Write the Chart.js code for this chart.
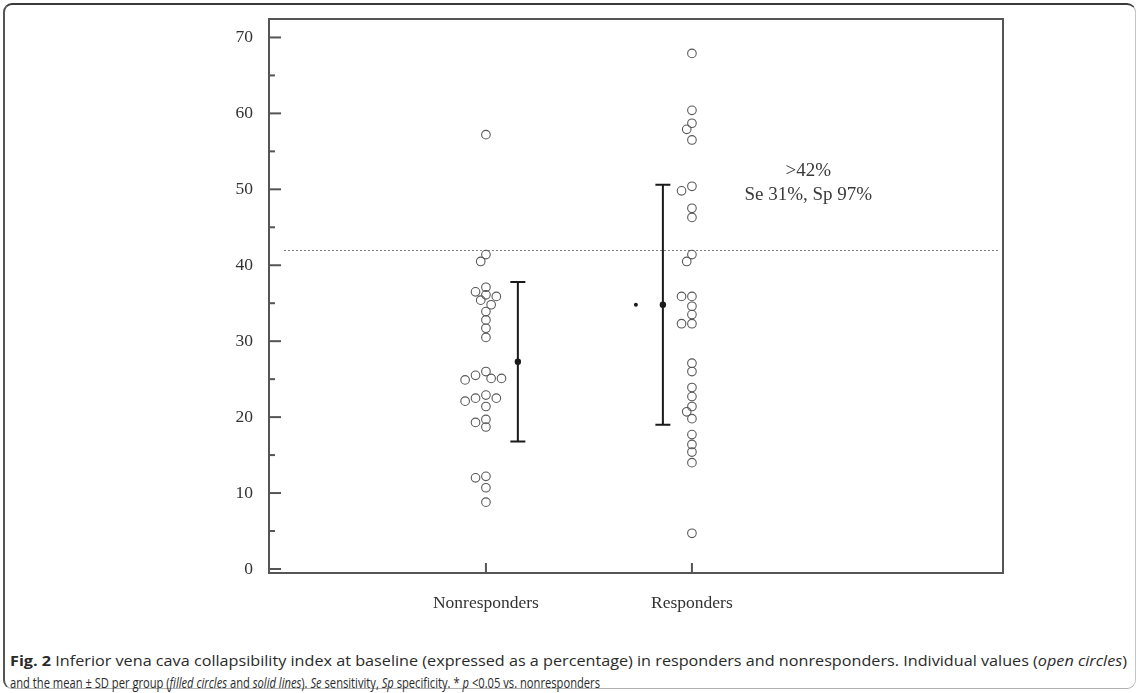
<!DOCTYPE html>
<html><head><meta charset="utf-8">
<script src="https://cdn.jsdelivr.net/npm/chart.js@4.4.1/dist/chart.umd.min.js"></script>
<style>
html,body{margin:0;padding:0;background:#fff;}
#wrap{position:relative;width:1140px;height:693px;overflow:hidden;background:#fff;}
#frame{position:absolute;left:3px;top:3px;width:1133px;height:686px;border-top:2px solid #3a3a3a;border-left:2px solid #555;border-right:1px solid #c4c4c4;border-bottom:1px solid #b0b0b0;border-radius:9px;box-sizing:border-box;}
#cv{position:absolute;left:0;top:0;}
.cap{position:absolute;left:10px;white-space:nowrap;font-family:"Open Sans",sans-serif;font-size:14.5px;color:#2a2a2a;transform-origin:0 50%;line-height:18px;}
</style></head>
<body>
<div id="wrap">
<div id="frame"></div>
<canvas id="cv" width="1140" height="640"></canvas>
<div class="cap" id="cap1" style="top:652px"><b>Fig. 2</b> Inferior vena cava collapsibility index at baseline (expressed as a percentage) in responders and nonresponders. Individual values (<i>open circles</i>)</div>
<div class="cap" id="cap2" style="top:674px">and the mean ± SD per group (<i>filled circles</i> and <i>solid lines</i>). <i>Se</i> sensitivity, <i>Sp</i> specificity. * <i>p</i> &lt;0.05 vs. nonresponders</div>
</div>
<script>
// ---- data ----
const groups = ["Nonresponders", "Responders"];
const nonresponders = [57.2, 41.4, 40.5, 37.1, 36.5, 36.1, 35.9, 35.4, 34.8, 33.9, 32.8, 31.7, 30.5,
  26.0, 25.5, 25.1, 25.1, 24.9, 22.9, 22.5, 22.5, 22.1, 21.4, 19.7, 19.3, 18.7, 12.2, 12.0, 10.7, 8.8];
const responders = [67.9, 60.4, 58.7, 57.9, 56.5, 50.4, 49.8, 47.5, 46.3, 41.4, 40.5, 35.9, 35.9, 34.6,
  33.5, 32.3, 32.3, 27.1, 26.0, 23.9, 22.7, 21.4, 20.7, 19.8, 17.7, 16.4, 15.4, 14.0, 4.7];
const groupMeans = [27.3, 34.8];
const groupSDs = [10.5, 15.8];
const cutoff = 42;
const annotationLines = [">42%", "Se 31%, Sp 97%"];
const yTicks = [0, 10, 20, 30, 40, 50, 60, 70];
const yMinorTicks = [5, 15, 25, 35, 45, 55, 65];

// ---- layout / style settings ----
const errBarOffset = [0.155, -0.141];   // x-units from group centre
const starOffset = -0.272;
const annotationAnchor = {x: 2.565, y: 52.4, lineGap: 3.15};
const serif = '"Liberation Serif", "DejaVu Serif", serif';

const decor = {
  id: 'decor',
  beforeDatasetsDraw(chart) {
    const {ctx, chartArea: a, scales: {x, y}} = chart;
    ctx.save();
    const yc = Math.round(y.getPixelForValue(cutoff)) + 0.5;
    ctx.strokeStyle = '#808080';
    ctx.lineWidth = 1;
    ctx.setLineDash([2, 2]);
    ctx.beginPath(); ctx.moveTo(a.left + 15, yc); ctx.lineTo(a.right - 3, yc); ctx.stroke();
    ctx.setLineDash([]);
    ctx.strokeStyle = '#555';
    ctx.lineWidth = 2;
    ctx.strokeRect(a.left, a.top, a.right - a.left, a.bottom - a.top);
    yTicks.forEach(v => { const p = y.getPixelForValue(v); ctx.beginPath(); ctx.moveTo(a.left, p); ctx.lineTo(a.left + 12, p); ctx.stroke(); });
    yMinorTicks.forEach(v => { const p = y.getPixelForValue(v); ctx.beginPath(); ctx.moveTo(a.left, p); ctx.lineTo(a.left + 6, p); ctx.stroke(); });
    groups.forEach((g, i) => { const p = x.getPixelForValue(i + 1); ctx.beginPath(); ctx.moveTo(p, a.bottom); ctx.lineTo(p, a.bottom - 10); ctx.stroke(); });
    ctx.restore();
  },
  afterDatasetsDraw(chart) {
    const {ctx, scales: {x, y}} = chart;
    ctx.save();
    ctx.strokeStyle = '#1a1a1a';
    ctx.fillStyle = '#1a1a1a';
    ctx.lineWidth = 2;
    groupMeans.forEach((m, i) => {
      const px = x.getPixelForValue(i + 1 + errBarOffset[i]);
      const top = y.getPixelForValue(m + groupSDs[i]);
      const bot = y.getPixelForValue(m - groupSDs[i]);
      ctx.beginPath();
      ctx.moveTo(px, top); ctx.lineTo(px, bot);
      ctx.moveTo(px - 7.5, top); ctx.lineTo(px + 7.5, top);
      ctx.moveTo(px - 7.5, bot); ctx.lineTo(px + 7.5, bot);
      ctx.stroke();
      ctx.beginPath(); ctx.arc(px, y.getPixelForValue(m), 3.2, 0, Math.PI * 2); ctx.fill();
    });
    const sx = x.getPixelForValue(2 + starOffset);
    const sy = y.getPixelForValue(groupMeans[1]);
    ctx.beginPath(); ctx.arc(sx, sy, 2, 0, Math.PI * 2); ctx.fill();
    ctx.fillStyle = '#3a3a3a';
    ctx.font = '19px ' + serif;
    ctx.textAlign = 'center';
    ctx.textBaseline = 'middle';
    annotationLines.forEach((t, k) => {
      ctx.fillText(t, x.getPixelForValue(annotationAnchor.x), y.getPixelForValue(annotationAnchor.y - k * annotationAnchor.lineGap));
    });
    ctx.restore();
  }
};

const pointStyle = {
  showLine: false, pointRadius: 4.3, pointHoverRadius: 4.3, pointBorderWidth: 1.1,
  borderColor: '#585858', backgroundColor: 'rgba(0,0,0,0)', pointBackgroundColor: 'rgba(0,0,0,0)'
};

const chart = new Chart(document.getElementById('cv'), {
  type: 'scatter',
  data: {
    datasets: [
      Object.assign({label: groups[0], data: nonresponders.map(v => ({x: 1, y: v}))}, pointStyle),
      Object.assign({label: groups[1], data: responders.map(v => ({x: 2, y: v}))}, pointStyle)
    ]
  },
  options: {
    responsive: false, animation: false, events: [],
    layout: {padding: {top: 19, right: 137, left: 0, bottom: 0}},
    plugins: {legend: {display: false}, tooltip: {enabled: false}},
    scales: {
      x: {
        type: 'linear', min: -0.053, max: 3.51,
        afterFit(s) { s.height = 67; s.paddingLeft = 0; s.paddingRight = 0; },
        afterBuildTicks(s) { s.ticks = groups.map((g, i) => ({value: i + 1})); },
        ticks: {callback: (v, i) => groups[i], font: {family: serif, size: 17.5}, color: '#333', padding: 20, maxRotation: 0, autoSkip: false},
        grid: {display: false, drawTicks: false}, border: {display: false}
      },
      y: {
        type: 'linear', min: -0.53, max: 72.43,
        afterFit(s) { s.width = 269; s.paddingTop = 0; s.paddingBottom = 0; },
        afterBuildTicks(s) { s.ticks = yTicks.map(v => ({value: v})); },
        ticks: {font: {family: serif, size: 17.5}, color: '#333', padding: 16},
        grid: {display: false, drawTicks: false}, border: {display: false}
      }
    }
  },
  plugins: [decor]
});

function swarm(values, group) {
  const y = chart.scales.y, x = chart.scales.x;
  const pxPerUnit = x.getPixelForValue(1) - x.getPixelForValue(0);
  const placed = [], out = new Array(values.length);
  const order = values.map((v, i) => i).sort((a, b) => values[b] - values[a]);
  const minDist = 7.4, step = 5.2;
  order.forEach(i => {
    const py = y.getPixelForValue(values[i]);
    for (let k = 0; k < 40; k++) {
      const cand = k === 0 ? 0 : (k % 2 ? -1 : 1) * Math.ceil(k / 2) * step;
      if (placed.every(p => Math.hypot(p.x - cand, p.y - py) >= minDist)) {
        placed.push({x: cand, y: py});
        out[i] = {x: group + cand / pxPerUnit, y: values[i]};
        break;
      }
    }
  });
  return out;
}
chart.data.datasets[0].data = swarm(nonresponders, 1);
chart.data.datasets[1].data = swarm(responders, 2);
chart.update('none');

// caption: fit each line to its width in the reference
function fit(id, w) {
  const el = document.getElementById(id);
  el.style.transform = 'scaleX(' + (w / el.getBoundingClientRect().width) + ')';
}
fit('cap1', 1117);
fit('cap2', 590);
</script>
</body></html>
